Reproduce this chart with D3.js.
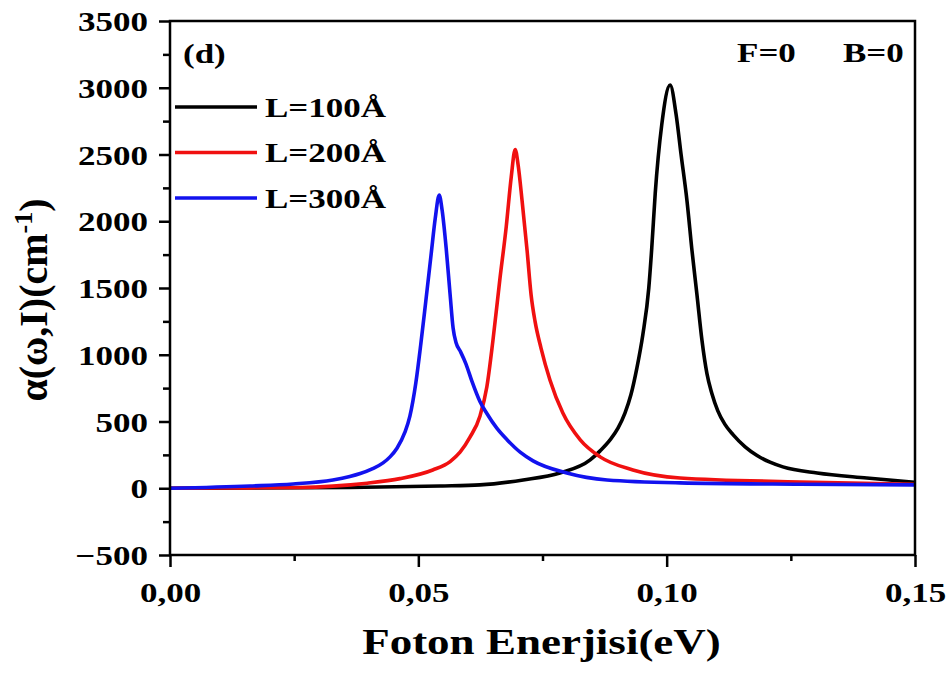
<!DOCTYPE html>
<html>
<head>
<meta charset="utf-8">
<script src="https://cdn.jsdelivr.net/npm/d3@7"></script>
<style>
  html, body { margin: 0; padding: 0; background: #fff; overflow: hidden; }
  svg { display: block; }
  svg text { font-family: "Liberation Serif", "Times New Roman", serif; font-weight: bold; fill: #000; }
</style>
</head>
<body>
<svg id="chart"></svg>
<script>
// photon energy (eV) / absorption (cm^-1)
const energyL100 = [0, 0.0161, 0.0362, 0.0544, 0.0624, 0.0711, 0.0785, 0.0846, 0.0866, 0.0886, 0.0902, 0.0916, 0.0928, 0.0940, 0.0952, 0.0964, 0.0970, 0.0977, 0.0990, 0.1007, 0.1019, 0.1029, 0.1041, 0.1051, 0.1061, 0.1071, 0.1081, 0.1091, 0.1103, 0.1117, 0.1134, 0.1158, 0.1182, 0.1208, 0.1234, 0.1303, 0.1403, 0.15];
const alphaL100  = [0, 2, 6, 17, 25, 62, 114, 212, 280, 362, 450, 563, 700, 900, 1150, 1500, 1800, 2211, 2720, 3020, 2800, 2500, 2150, 1780, 1450, 1110, 860, 710, 580, 480, 400, 310, 245, 195, 160, 114, 77, 45];

const energyL200 = [0, 0.0161, 0.0262, 0.0328, 0.0397, 0.0463, 0.0529, 0.0564, 0.0584, 0.0604, 0.0624, 0.0638, 0.0650, 0.0664, 0.0677, 0.0687, 0.0695, 0.0701, 0.0709, 0.0719, 0.0727, 0.0735, 0.0747, 0.0765, 0.0791, 0.0826, 0.0866, 0.0932, 0.1027, 0.1268, 0.15];
const alphaL200  = [0, 3, 6, 16, 38, 72, 137, 200, 270, 383, 540, 760, 1100, 1560, 1960, 2330, 2538, 2420, 2150, 1780, 1450, 1250, 1050, 811, 563, 362, 235, 137, 77, 47, 30];

const energyL300 = [0, 0.0161, 0.0248, 0.0328, 0.0362, 0.0383, 0.0407, 0.0429, 0.0443, 0.0457, 0.0473, 0.0483, 0.0495, 0.0505, 0.0515, 0.0526, 0.0534, 0.0542, 0.0548, 0.0556, 0.0564, 0.0570, 0.0576, 0.0584, 0.0596, 0.0608, 0.0624, 0.0638, 0.0658, 0.0679, 0.0705, 0.0731, 0.0799, 0.0880, 0.1027, 0.1268, 0.15];
const alphaL300  = [0, 17, 32, 62, 88, 110, 145, 190, 235, 300, 420, 540, 790, 1080, 1400, 1760, 2020, 2196, 2080, 1800, 1450, 1200, 1090, 1030, 930, 800, 650, 560, 450, 362, 270, 205, 114, 62, 40, 30, 25];

const seriesNames = ['L=100Å', 'L=200Å', 'L=300Å'];
const seriesColors = ['#000000', '#f01010', '#1212ee'];

const xTicks = [0, 0.05, 0.10, 0.15];
const xTickLabels = ['0,00', '0,05', '0,10', '0,15'];
const xMinorTicks = [0.025, 0.075, 0.125];
const yTicks = [-500, 0, 500, 1000, 1500, 2000, 2500, 3000, 3500];
const yMinorTicks = [-250, 250, 750, 1250, 1750, 2250, 2750, 3250];

const width = 952, height = 674;
const margin = { top: 21, right: 37, bottom: 119, left: 170 };
const innerWidth = width - margin.left - margin.right;
const innerHeight = height - margin.top - margin.bottom;
const stretch = 1.25; // the figure's lettering is wide

// stretch glyphs sideways without a transform
function widen(sel) {
    sel.each(function () {
        const w = this.getComputedTextLength();
        d3.select(this)
            .attr('textLength', w * stretch)
            .attr('lengthAdjust', 'spacingAndGlyphs');
    });
}

const svg = d3.select('#chart')
    .attr('width', width)
    .attr('height', height);

const g = svg.append('g')
    .attr('transform', `translate(${margin.left},${margin.top})`);

const x = d3.scaleLinear().domain([0, 0.15]).range([0, innerWidth]);
const y = d3.scaleLinear().domain([-500, 3500]).range([innerHeight, 0]);

const series = [
    { name: seriesNames[0], color: seriesColors[0], pts: energyL100.map((e, i) => ({ e, a: alphaL100[i] })) },
    { name: seriesNames[1], color: seriesColors[1], pts: energyL200.map((e, i) => ({ e, a: alphaL200[i] })) },
    { name: seriesNames[2], color: seriesColors[2], pts: energyL300.map((e, i) => ({ e, a: alphaL300[i] })) },
];

g.append('defs').append('clipPath')
    .attr('id', 'plot-clip')
    .append('rect')
    .attr('width', innerWidth)
    .attr('height', innerHeight);

const line = d3.line()
    .x(d => x(d.e))
    .y(d => y(d.a))
    .curve(d3.curveMonotoneX);

g.append('g')
    .attr('clip-path', 'url(#plot-clip)')
    .selectAll('path')
    .data(series)
    .join('path')
    .attr('d', d => line(d.pts))
    .attr('fill', 'none')
    .attr('stroke', d => d.color)
    .attr('stroke-width', 3.6)
    .attr('stroke-linejoin', 'round');

// frame (top + right have no ticks)
g.append('rect')
    .attr('width', innerWidth)
    .attr('height', innerHeight)
    .attr('fill', 'none')
    .attr('stroke', '#000')
    .attr('stroke-width', 2.5);

// minor ticks
g.append('g')
    .attr('class', 'axis')
    .call(d3.axisLeft(y).tickValues(yMinorTicks).tickSize(7).tickFormat(''));
g.append('g')
    .attr('class', 'axis')
    .attr('transform', `translate(0,${innerHeight})`)
    .call(d3.axisBottom(x).tickValues(xMinorTicks).tickSize(6).tickFormat(''));

// major ticks + labels
const yAxis = g.append('g')
    .attr('class', 'axis')
    .call(d3.axisLeft(y).tickValues(yTicks).tickSize(11).tickFormat(d3.format('d')));
yAxis.selectAll('text')
    .attr('font-size', 28)
    .attr('x', -22)
    .attr('dy', '0.34em')
    .call(widen);

const xAxis = g.append('g')
    .attr('class', 'axis')
    .attr('transform', `translate(0,${innerHeight})`)
    .call(d3.axisBottom(x).tickValues(xTicks).tickSize(12)
        .tickFormat((d, i) => xTickLabels[i]));
xAxis.selectAll('text')
    .attr('font-size', 28)
    .attr('y', 27)
    .attr('dy', '0.71em')
    .call(widen);

svg.selectAll('.axis .domain').remove();
svg.selectAll('.axis line').attr('stroke', '#000').attr('stroke-width', 2.5);

// legend
const legend = g.append('g').attr('transform', 'translate(5,86)');
const legendRows = legend.selectAll('g')
    .data(series)
    .join('g')
    .attr('transform', (d, i) => `translate(0,${i * 45.5})`);
legendRows.append('line')
    .attr('x1', 0).attr('x2', 82)
    .attr('stroke', d => d.color)
    .attr('stroke-width', 3.6);
legendRows.append('text')
    .attr('x', 90)
    .attr('dy', '0.34em')
    .attr('font-size', 28)
    .text(d => d.name)
    .call(widen);

// annotations
const note = (tx, ty, str) => g.append('text')
    .attr('x', tx)
    .attr('y', ty)
    .attr('font-size', 28)
    .text(str)
    .call(widen);
note(13, 42, '(d)');
note(567, 41, 'F=0');
note(673, 41, 'B=0');

// axis titles
svg.append('text')
    .attr('x', margin.left + innerWidth / 2 - 1)
    .attr('y', 654)
    .attr('text-anchor', 'middle')
    .attr('font-size', 36)
    .text('Foton Enerjisi(eV)')
    .call(widen);

const yTitle = svg.append('text')
    .attr('transform', 'translate(47,300) rotate(-90)')
    .attr('text-anchor', 'middle')
    .attr('font-size', 40);
yTitle.append('tspan').text('α(ω,I)(cm');
yTitle.append('tspan').attr('font-size', 26).attr('dy', -15).text('-1');
yTitle.append('tspan').attr('dy', 15).text(')');
</script>
</body>
</html>
